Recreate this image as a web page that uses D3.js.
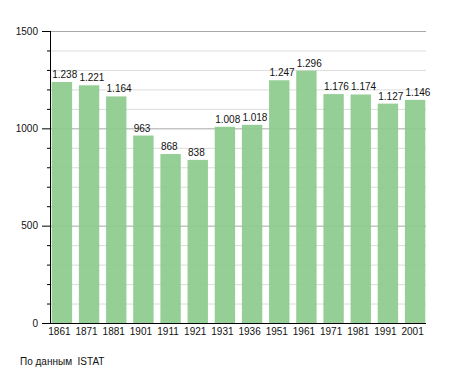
<!DOCTYPE html>
<html>
  <head>
    <meta charset="UTF-8" />
    <style>
      body { margin: 0; background: #fff; }
      svg { display: block; font-family: "Liberation Sans", Arial, sans-serif; }
    </style>
  </head>
  <body>
    <svg></svg>
    <script src="https://d3js.org/d3.v7.min.js"></script>
    <script>
      let width = 455,
        height = 373;

      // data
      const years = ["1861", "1871", "1881", "1901", "1911", "1921", "1931", "1936", "1951", "1961", "1971", "1981", "1991", "2001"];
      const population = [1238, 1221, 1164, 963, 868, 838, 1008, 1018, 1247, 1296, 1176, 1174, 1127, 1146];
      const labels = ["1.238", "1.221", "1.164", "963", "868", "838", "1.008", "1.018", "1.247", "1.296", "1.176", "1.174", "1.127", "1.146"];
      const majorTicks = [0, 500, 1000, 1500];
      const source = "По данным  ISTAT";

      let svg = d3.select("svg").attr("width", width).attr("height", height);

      let x = d3.scaleBand().domain(years).range([49, 428]).paddingInner(0.25).paddingOuter(0.1);
      let y = d3.scaleLinear().domain([0, 1500]).range([323, 31]);

      let minor = d3.range(0, 1501, 100);

      // gridlines
      svg.append("g")
        .selectAll("line")
        .data(minor)
        .enter()
        .append("line")
        .attr("x1", 50)
        .attr("x2", 426)
        .attr("y1", (d) => y(d) + 0.5)
        .attr("y2", (d) => y(d) + 0.5)
        .attr("stroke", (d) => (d % 500 == 0 ? "#a8a8a8" : "#dcdcdc"))
        .attr("stroke-width", 1);

      // bars
      svg.append("g")
        .selectAll("rect")
        .data(years)
        .enter()
        .append("rect")
        .attr("x", (d) => x(d))
        .attr("y", (d, i) => y(population[i]))
        .attr("width", x.bandwidth())
        .attr("height", (d, i) => y(0) - y(population[i]))
        .attr("fill", "#8dcb8d")
        .attr("fill-opacity", 0.93);

      // value labels
      svg.append("g")
        .selectAll("text")
        .data(years)
        .enter()
        .append("text")
        .attr("x", (d) => x(d) + 0.5)
        .attr("y", (d, i) => y(population[i]) - 4)
        .attr("font-size", 10)
        .attr("fill", "#111")
        .text((d, i) => labels[i]);

      // y axis
      let yAxis = svg.append("g");
      yAxis.append("line")
        .attr("x1", 50.5).attr("x2", 50.5)
        .attr("y1", 31).attr("y2", 323)
        .attr("stroke", "#000");
      yAxis.selectAll(".minor")
        .data(minor)
        .enter()
        .append("line")
        .attr("x1", (d) => (d % 500 == 0 ? 42 : 47))
        .attr("x2", 50)
        .attr("y1", (d) => y(d) + 0.5)
        .attr("y2", (d) => y(d) + 0.5)
        .attr("stroke", "#000");
      yAxis.selectAll("text")
        .data(majorTicks)
        .enter()
        .append("text")
        .attr("x", 38)
        .attr("y", (d) => y(d) + 3.5)
        .attr("text-anchor", "end")
        .attr("font-size", 10)
        .attr("fill", "#111")
        .text((d) => d);

      // x axis
      svg.append("line")
        .attr("x1", 44).attr("x2", 426)
        .attr("y1", 323.5).attr("y2", 323.5)
        .attr("stroke", "#000");
      svg.append("g")
        .selectAll("text")
        .data(years)
        .enter()
        .append("text")
        .attr("x", (d) => x(d) + x.bandwidth() / 2 - 2.5)
        .attr("y", 335)
        .attr("text-anchor", "middle")
        .attr("font-size", 10)
        .attr("fill", "#111")
        .text((d) => d);

      // source
      svg.append("text")
        .attr("x", 20)
        .attr("y", 365)
        .attr("font-size", 10)
        .attr("fill", "#111")
        .style("white-space", "pre")
        .text(source);
    </script>
  </body>
</html>
